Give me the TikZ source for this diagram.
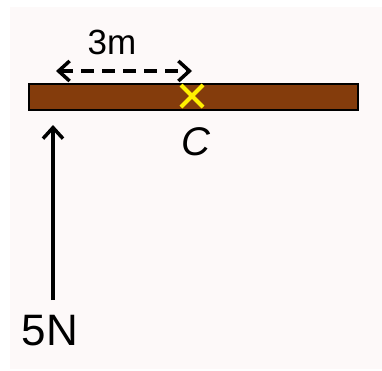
\documentclass[tikz,border=0pt]{standalone}
\usepackage{fontspec}
\setmainfont{Liberation Sans}
\usetikzlibrary{arrows.meta}
\definecolor{bgc}{RGB}{253,249,249}
\definecolor{beamc}{RGB}{132,60,12}
\definecolor{xc}{RGB}{255,240,0}
\tikzset{
  beam/.style={draw=black, line width=1.5pt, fill=beamc, minimum width=329pt, minimum height=26pt, inner sep=0pt},
  lbl/.style={inner sep=0pt, text=black},
  barb/.tip={Straight Barb[length=11pt, width=20pt, line width=3.5pt]},
  force/.style={line width=3.5pt, -barb},
  dim/.style={line width=3.5pt, dash pattern=on 13pt off 8pt, barb-barb},
  cross/.style={draw=xc, line width=4pt}
}
\begin{document}
\begin{tikzpicture}[x=1pt, y=-1pt]
\useasboundingbox (0,0) rectangle (382,370);
\fill[bgc] (10,7) rectangle (382,369);
\node[beam] (beam) at (193.5,97) {};
\coordinate (cpt) at (192,96);
\draw[cross] ([shift={(-11,-11)}]cpt) -- ([shift={(11,11)}]cpt);
\draw[cross] ([shift={(-11,11)}]cpt) -- ([shift={(11,-11)}]cpt);
\coordinate (dl) at (56,71);
\coordinate (dr) at (192,71);
\draw[dim] (dl) -- (dr);
\node[lbl, font=\fontsize{35}{35}\selectfont] (m) at (112,42) {3m};
\node[lbl, font=\fontsize{40}{40}\selectfont\itshape] (c) at (196,142) {C};
\node[lbl, font=\fontsize{44}{44}\selectfont] (f) at (50,331) {5N};
\coordinate (fs) at (53,300);
\coordinate (fe) at (53,125);
\draw[force] (fs) -- (fe);
\end{tikzpicture}
\end{document}
